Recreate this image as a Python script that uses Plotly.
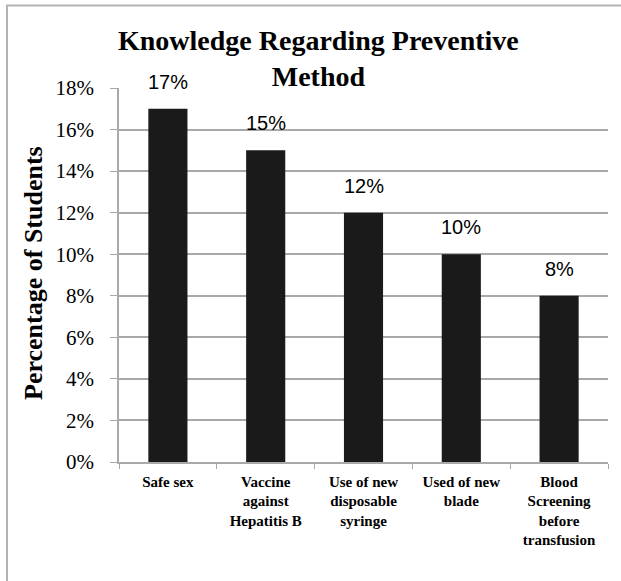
import plotly.graph_objects as go

categories = ["Safe sex", "Vaccine against Hepatitis B", "Use of new disposable syringe",
              "Used of new blade", "Blood Screening before transfusion"]
tick_labels = ["Safe sex", "Vaccine<br>against<br>Hepatitis B", "Use of new<br>disposable<br>syringe",
               "Used of new<br>blade", "Blood<br>Screening<br>before<br>transfusion"]
values = [0.17, 0.15, 0.12, 0.10, 0.08]
value_labels = ["17%", "15%", "12%", "10%", "8%"]

W, H = 621, 581
L, R, T, B = 119, 13, 88, 119
pw, ph = W - L - R, H - T - B

def px(x):
    return (x - L) / pw

def py(y):
    return (H - B - y) / ph

serif = "Liberation Serif, Times New Roman, serif"
sans = "Liberation Sans, Arial, sans-serif"
grid = "#a9a9a9"

fig = go.Figure(go.Bar(x=categories, y=values, marker=dict(color="#1a1a1a", line=dict(width=0)),
                       hoverinfo="skip"))

annotations = []
for c, v, t in zip(categories, values, value_labels):
    annotations.append(dict(x=c, y=v, xref="x", yref="y", text=t, showarrow=False,
                            yanchor="middle", yshift=27, font=dict(family=sans, size=20, color="#000")))

annotations.append(dict(x=px(318), y=py(58.5), xref="paper", yref="paper",
                        text="<b>Knowledge Regarding Preventive<br>Method</b>", showarrow=False,
                        xanchor="center", yanchor="middle",
                        font=dict(family=serif, size=28, color="#000")))
annotations.append(dict(x=px(33), y=py(273), xref="paper", yref="paper",
                        text="<b>Percentage of Students</b>", showarrow=False, textangle=-90,
                        xanchor="center", yanchor="middle",
                        font=dict(family=serif, size=26, color="#000")))

shapes = [
    dict(type="line", xref="paper", yref="paper", x0=px(7), x1=px(7), y0=py(5), y1=py(H + 5),
         line=dict(color="#b3b3b3", width=2)),
    dict(type="line", xref="paper", yref="paper", x0=px(6), x1=px(W + 5), y0=py(5.5), y1=py(5.5),
         line=dict(color="#b3b3b3", width=2)),
]

fig.update_layout(
    width=W, height=H,
    margin=dict(l=L, r=R, t=T, b=B),
    paper_bgcolor="white", plot_bgcolor="white",
    bargap=0.6,
    showlegend=False,
    annotations=annotations,
    shapes=shapes,
    xaxis=dict(
        type="category", tickvals=categories, ticktext=["<b>" + t + "</b>" for t in tick_labels],
        tickson="boundaries", ticks="outside", ticklen=5, tickcolor=grid,
        showline=True, linecolor=grid, linewidth=1.5, showgrid=False,
        tickfont=dict(family=serif, size=15, color="#000"),
        tickangle=0, ticklabelstandoff=5,
    ),
    yaxis=dict(
        range=[0, 0.18], dtick=0.02, tickformat=".0%",
        ticks="outside", ticklen=7, tickcolor=grid,
        showline=True, linecolor=grid, linewidth=1.5,
        showgrid=True, gridcolor=grid, gridwidth=1.5, zeroline=False,
        tickfont=dict(family=serif, size=21, color="#000"),
        ticklabelstandoff=12,
    ),
)

fig.write_html("out.html")
